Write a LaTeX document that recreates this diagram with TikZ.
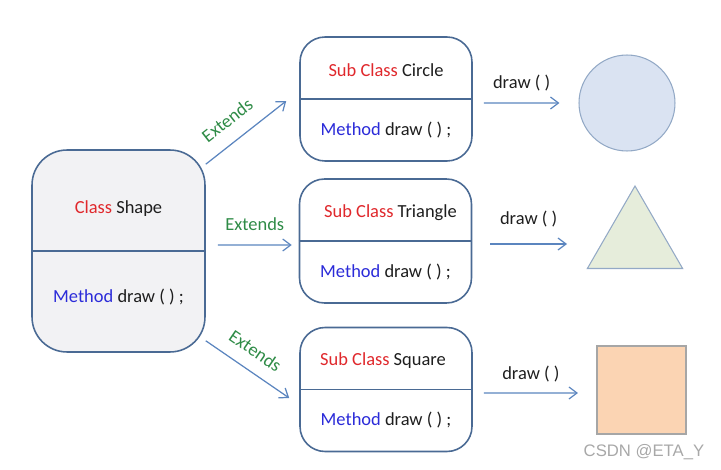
\documentclass[tikz,border=0pt]{standalone}
\usepackage{fontspec}
\setmainfont{Carlito}
\newfontfamily\wmfont{Liberation Sans}
\usetikzlibrary{positioning, arrows.meta, shapes.geometric, calc}
\definecolor{edge}{HTML}{4A6A94}
\definecolor{flowc}{HTML}{5B85BF}
\definecolor{kwred}{HTML}{E0282C}
\definecolor{kwblue}{HTML}{2B2BD9}
\definecolor{extgreen}{HTML}{2E8B46}
\definecolor{shapebg}{HTML}{F2F2F4}
\definecolor{circbg}{HTML}{DAE3F2}
\definecolor{circedge}{HTML}{93A9C6}
\definecolor{tribg}{HTML}{E6EDDB}
\definecolor{sqbg}{HTML}{FBD4B3}
\definecolor{sqedge}{HTML}{A6A6A6}
\definecolor{txt}{HTML}{1E1E1E}
\definecolor{wmgray}{HTML}{A8A8A8}
\newcommand{\methodline}{\textcolor{kwblue}{Method} draw ( ) ;}
\tikzset{
  basebox/.style={draw=edge, line width=0.9pt, fill=shapebg, rounded corners=0.7cm,
                  minimum width=3.46cm, minimum height=4.04cm},
  subbox/.style={draw=edge, line width=0.9pt, fill=white, rounded corners=0.5cm,
                 minimum width=3.44cm, minimum height=2.48cm},
  divider/.style={draw=edge, line width=0.9pt},
  extarrow/.style={-{Straight Barb[length=1.6mm, width=2.4mm]}, line width=0.7pt, draw=flowc},
  lbl/.style={font=\fontsize{10.5}{12}\selectfont, text=txt, inner sep=1pt},
  extlbl/.style={lbl, text=extgreen},
}

\begin{document}
\begin{tikzpicture}[x=0.02cm, y=-0.02cm]
  \useasboundingbox (0,0) rectangle (721,470);
  % parent class
  \node[basebox] (shape) at (118.5,251) {};
  \draw[divider] (shape.west) -- (shape.east);
  \node[lbl] (shapeT) at ([yshift=8.4mm]shape.center) {\textcolor{kwred}{Class} Shape};
  \node[lbl] (shapeM) at ([yshift=-9.2mm]shape.center) {\methodline};
  % sub classes
  \node[subbox] (circB) at (386,99) {};
  \draw[divider] (circB.west) -- (circB.east);
  \node[lbl] (circT) at ([yshift=5.8mm]circB.center) {\textcolor{kwred}{Sub Class} Circle};
  \node[lbl] (circM) at ([yshift=-6.2mm]circB.center) {\methodline};
  \node[subbox] (triB) at (385.5,241) {};
  \draw[divider] (triB.west) -- (triB.east);
  \node[lbl] (triT) at ([shift={(1mm,5.6mm)}]triB.center) {\textcolor{kwred}{Sub Class} Triangle};
  \node[lbl] (triM) at ([yshift=-6.2mm]triB.center) {\methodline};
  \node[subbox] (sqB) at (386,389.5) {};
  \draw[divider] (sqB.west) -- (sqB.east);
  \node[lbl] (sqT) at ([shift={(-0.6mm,5.7mm)}]sqB.center) {\textcolor{kwred}{Sub Class} Square};
  \node[lbl] (sqM) at ([yshift=-6.2mm]sqB.center) {\methodline};
  % drawn shapes
  \node[circle, draw=circedge, fill=circbg, line width=0.6pt, minimum size=1.92cm,
        inner sep=0] (circS) at (627,103) {};
  \node[regular polygon, regular polygon sides=3, draw=circedge, fill=tribg,
        line width=0.6pt, minimum size=2.2cm, inner sep=0] (triS) at (635,241) {};
  \node[draw=sqedge, fill=sqbg, line width=0.6pt, minimum width=1.78cm,
        minimum height=1.76cm, inner sep=0] (sqS) at (641.5,390) {};
  % extends
  \draw[extarrow] ([yshift=-3mm]shape.north east) --
        node[extlbl, sloped, above=2.5mm, pos=0.43] {Extends} ([shift={(-2.6mm,-0.4mm)}]circB.west);
  \draw[extarrow] ([shift={(2.4mm,1.2mm)}]shape.east) --
        node[extlbl, above=2.4mm] {Extends} ([shift={(-1.4mm,-0.8mm)}]triB.west);
  \draw[extarrow] ([yshift=2.4mm]shape.south east) --
        node[extlbl, sloped, above=2.2mm, pos=0.46] {Extends} ([shift={(-2mm,-1.7mm)}]sqB.west);
  % draw calls
  \draw[extarrow] ([shift={(2.2mm,-0.8mm)}]circB.east) --
        node[lbl, above=2mm] {draw ( )} ([xshift=-3.8mm]circS.west);
  \draw[extarrow] ([shift={(3.6mm,-0.6mm)}]triB.east) --
        node[lbl, above=3mm] {draw ( )} ([shift={(-13.6mm,-0.6mm)}]triS.center);
  \draw[extarrow] ([shift={(2.2mm,-0.7mm)}]sqB.east) --
        node[lbl, above=1.8mm] {draw ( )} ([shift={(-3.7mm,-0.6mm)}]sqS.west);
  \node[font=\wmfont\fontsize{9.5}{11}\selectfont, text=wmgray] (wm) at (644,452) {CSDN @ETA\_Y};
\end{tikzpicture}
\end{document}
